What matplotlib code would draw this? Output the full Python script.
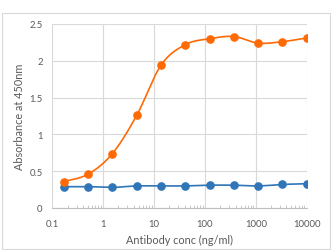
import matplotlib
matplotlib.use('Agg')
import matplotlib.pyplot as plt
import matplotlib.ticker as mticker
import numpy as np

# antibody concentration (ng/ml), 3-fold dilution series
conc = [0.169, 0.508, 1.52, 4.57, 13.7, 41.2, 123.5, 370, 1111, 3333, 10000]
orange_abs = [0.36, 0.46, 0.74, 1.26, 1.94, 2.22, 2.30, 2.33, 2.24, 2.26, 2.31]
blue_abs = [0.29, 0.29, 0.28, 0.30, 0.30, 0.30, 0.31, 0.31, 0.30, 0.32, 0.33]

x_ticks = [0.1, 1, 10, 100, 1000, 10000]
x_labels = ['0.1', '1', '10', '100', '1000', '10000']
y_ticks = [0, 0.5, 1, 1.5, 2, 2.5]
y_labels = ['0', '0.5', '1', '1.5', '2', '2.5']

ORANGE = '#FF6A06'
BLUE = '#2F75B8'
TXT = '#595959'
GRID = '#D9D9D9'

plt.rcParams['font.family'] = ['Lato', 'DejaVu Sans']


def smooth(xs, ys, sx=50.9, sy=73.6, n=30):
    """Excel-like smoothed line (Catmull-Rom bezier) in pixel space."""
    px = (np.log10(xs) + 1) * sx
    py = np.asarray(ys) * sy
    pts = np.column_stack([px, py])
    out = []
    for i in range(len(pts) - 1):
        p0 = pts[i - 1] if i > 0 else pts[i]
        p1 = pts[i]
        p2 = pts[i + 1]
        p3 = pts[i + 2] if i + 2 < len(pts) else pts[i + 1]
        c1 = p1 + (p2 - p0) / 6
        c2 = p2 - (p3 - p1) / 6
        t = np.linspace(0, 1, n)[:, None]
        seg = ((1 - t) ** 3) * p1 + 3 * ((1 - t) ** 2) * t * c1 \
            + 3 * (1 - t) * t ** 2 * c2 + t ** 3 * p2
        out.append(seg if i == 0 else seg[1:])
    out = np.vstack(out)
    return 10 ** (out[:, 0] / sx - 1), out[:, 1] / sy


fig = plt.figure(figsize=(3.31, 2.51), dpi=100)
# light border around the chart
fig.patches.append(plt.Rectangle((2 / 331, 0.004), 327.5 / 331, 1 - 14 / 251 - 0.004,
                                 transform=fig.transFigure, fill=False,
                                 edgecolor='#D9D9D9', linewidth=0.8))
ax = fig.add_axes([52.3 / 331, 1 - 209 / 251, 254.4 / 331, 184 / 251])

for ys, col in [(blue_abs, BLUE), (orange_abs, ORANGE)]:
    sxv, syv = smooth(conc, ys)
    ax.plot(sxv, syv, color=col, linewidth=1.2, zorder=3)
    ax.plot(conc, ys, 'o', color=col, markersize=5.2, zorder=4)

ax.set_xscale('log')
ax.set_xlim(0.1, 10000)
ax.set_ylim(0, 2.5)
ax.set_xticks(x_ticks)
ax.set_xticklabels(x_labels)
ax.set_yticks(y_ticks)
ax.set_yticklabels(y_labels)
ax.xaxis.set_minor_locator(mticker.LogLocator(base=10, subs=np.arange(2, 10)))
ax.xaxis.set_minor_formatter(mticker.NullFormatter())

ax.grid(True, which='major', color=GRID, linewidth=0.8, zorder=0)
ax.set_axisbelow(True)
for s in ['top', 'right', 'left']:
    ax.spines[s].set_visible(False)
ax.spines['bottom'].set_color('#BFBFBF')
ax.spines['bottom'].set_linewidth(0.8)

ax.tick_params(axis='both', which='major', length=0, labelsize=6.8, labelcolor=TXT)
ax.tick_params(axis='x', which='major', pad=8)
ax.tick_params(axis='y', which='major', pad=7)
ax.tick_params(axis='x', which='minor', direction='in', length=2.5, width=0.6,
               color='#BFBFBF')

ax.set_xlabel('Antibody conc (ng/ml)', fontsize=7.8, color=TXT, labelpad=4)
ax.set_ylabel('Absorbance at 450nm', fontsize=7.8, color=TXT, labelpad=3)

fig.savefig('out.png', dpi=100)
